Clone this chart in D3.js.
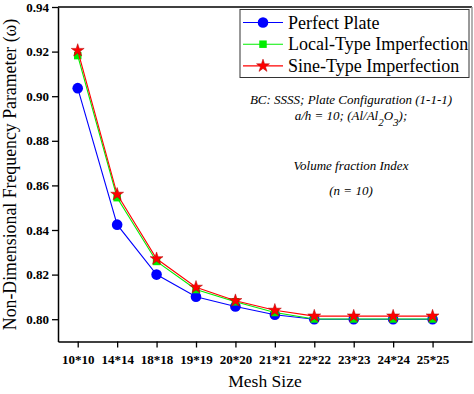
<html>
<head>
<script src="https://d3js.org/d3.v7.min.js"></script>
<style>
    body { margin: 0; background: #fff; }
    svg text { font-family: "Liberation Serif", "Times New Roman", serif; fill: #000; }
    .tick text { font-weight: bold; font-size: 13px; }
</style>
</head>
<body>
<script>
    var meshSizes = ["10*10", "14*14", "18*18", "19*19", "20*20", "21*21", "22*22", "23*23", "24*24", "25*25"];
    var perfectPlate = [0.9036, 0.8424, 0.8200, 0.8101, 0.8057, 0.8020, 0.8000, 0.8000, 0.8000, 0.8000];
    var localType = [0.9182, 0.8545, 0.8259, 0.8133, 0.8078, 0.8030, 0.8001, 0.8001, 0.8001, 0.8001];
    var sineType = [0.9205, 0.8560, 0.8271, 0.8143, 0.8083, 0.8040, 0.8014, 0.8014, 0.8014, 0.8014];
    var yTicks = [0.80, 0.82, 0.84, 0.86, 0.88, 0.90, 0.92, 0.94];

    var series = [
        { name: "Perfect Plate", values: perfectPlate, color: "#0000ff", mark: "circle" },
        { name: "Local-Type Imperfection", values: localType, color: "#00ee00", mark: "square" },
        { name: "Sine-Type Imperfection", values: sineType, color: "#ff0000", mark: "star" }
    ];

    var width = 474, height = 394;
    var plotLeft = 58, plotRight = 472, plotTop = 7, plotBottom = 341.5;

    var svg = d3.select("body").append("svg")
        .attr("width", width)
        .attr("height", height);

    var x = d3.scaleLinear().domain([-0.5, 10]).range([plotLeft, plotRight]);
    var y = d3.scaleLinear().domain([0.79, 0.94]).range([plotBottom, plotTop]);

    // frame
    svg.append("line").attr("x1", plotLeft).attr("x2", plotRight).attr("y1", plotTop).attr("y2", plotTop)
        .attr("stroke", "#000").attr("stroke-width", 1.5);
    svg.append("line").attr("x1", plotRight).attr("x2", plotRight).attr("y1", plotTop).attr("y2", plotBottom)
        .attr("stroke", "#999").attr("stroke-width", 1.5);

    var xAxis = svg.append("g")
        .attr("transform", "translate(0," + plotBottom + ")")
        .call(d3.axisBottom(x).tickValues(d3.range(meshSizes.length))
            .tickFormat(function (i) { return meshSizes[i]; })
            .tickSize(6).tickSizeOuter(0).tickPadding(4));
    var yAxis = svg.append("g")
        .attr("transform", "translate(" + plotLeft + ",0)")
        .call(d3.axisLeft(y).tickValues(yTicks).tickFormat(d3.format(".2f"))
            .tickSize(6).tickSizeOuter(0).tickPadding(3));
    svg.selectAll(".domain").attr("stroke", "#000").attr("stroke-width", 1.5);
    svg.selectAll(".tick line").attr("stroke", "#000").attr("stroke-width", 1.3);
    xAxis.selectAll(".tick text").attr("dy", "0.95em");

    svg.append("text")
        .attr("x", (plotLeft + plotRight) / 2).attr("y", 386.5)
        .attr("text-anchor", "middle").attr("font-size", "17.5px")
        .text("Mesh Size");
    svg.append("text")
        .attr("transform", "translate(15.5,174.5) rotate(-90)")
        .attr("text-anchor", "middle").attr("font-size", "17.8px")
        .text("Non-Dimensional Frequency Parameter (\u03c9)");

    var line = d3.line()
        .x(function (d, i) { return x(i); })
        .y(function (d) { return y(d); });

    var star = d3.symbol().type(d3.symbolStar).size(52);
    var square = d3.symbol().type(d3.symbolSquare).size(56);

    function drawMark(g, s, cx, cy) {
        if (s.mark === "circle") {
            g.append("circle").attr("cx", cx).attr("cy", cy).attr("r", 5.3).attr("fill", s.color);
        } else if (s.mark === "square") {
            g.append("path").attr("d", square).attr("transform", "translate(" + cx + "," + cy + ")")
                .attr("fill", s.color);
        } else {
            g.append("path").attr("d", star).attr("transform", "translate(" + cx + "," + cy + ")")
                .attr("fill", s.color).attr("stroke", "#b00000").attr("stroke-width", 0.5);
        }
    }

    series.forEach(function (s) {
        var g = svg.append("g");
        g.append("path").datum(s.values)
            .attr("d", line)
            .attr("fill", "none")
            .attr("stroke", s.color)
            .attr("stroke-width", 1.1);
        s.values.forEach(function (v, i) { drawMark(g, s, x(i), y(v)); });
    });

    // legend
    var lg = svg.append("g");
    lg.append("rect").attr("x", 240).attr("y", 9.5).attr("width", 229).attr("height", 68)
        .attr("fill", "#fff").attr("stroke", "#333").attr("stroke-width", 1);
    series.forEach(function (s, i) {
        var ly = 22.5 + i * 21.7;
        lg.append("line").attr("x1", 243).attr("x2", 283).attr("y1", ly).attr("y2", ly)
            .attr("stroke", s.color).attr("stroke-width", 1.1);
        drawMark(lg, s, 263, ly);
        lg.append("text").attr("x", 288).attr("y", ly + 6).attr("font-size", "18px").text(s.name);
    });

    // annotation
    var note = svg.append("g").attr("font-style", "italic").attr("font-size", "13px")
        .attr("text-anchor", "middle");
    note.append("text").attr("x", 351).attr("y", 104).text("BC: SSSS; Plate Configuration (1-1-1)");
    var t2 = note.append("text").attr("x", 351).attr("y", 120);
    t2.append("tspan").text("a/h = 10; (Al/Al");
    t2.append("tspan").attr("baseline-shift", "sub").attr("font-size", "11px").text("2");
    t2.append("tspan").text("O");
    t2.append("tspan").attr("baseline-shift", "sub").attr("font-size", "11px").text("3");
    t2.append("tspan").text(");");
    note.append("text").attr("x", 351).attr("y", 170).text("Volume fraction Index");
    note.append("text").attr("x", 351).attr("y", 195).text("(n = 10)");
</script>
</body>
</html>
